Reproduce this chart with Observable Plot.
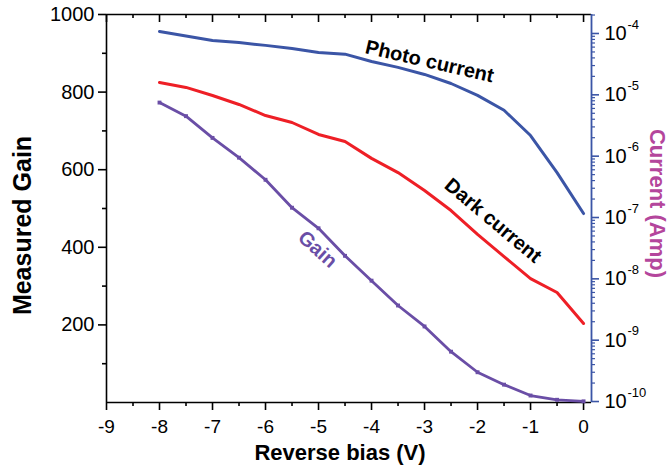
<!DOCTYPE html>
<html><head><meta charset="utf-8">
<script src="https://cdn.jsdelivr.net/npm/d3@7"></script>
<script src="https://cdn.jsdelivr.net/npm/@observablehq/plot@0.6"></script>
<style>
html,body{margin:0;padding:0;background:#fff;}
#chart svg{display:block;font-family:"Liberation Sans",Arial,sans-serif;}
</style></head><body><div id="chart"></div>
<script>
// ---- data ----
const bias = [-8,-7.5,-7,-6.5,-6,-5.5,-5,-4.5,-4,-3.5,-3,-2.5,-2,-1.5,-1,-0.5,0];
const gain = [773,738,682,631,574,502,449,378,314,250,196,131,78,46,18,7,3];
const photoBias = [-8,-7,-6.5,-6,-5.5,-5,-4.5,-4,-3.5,-3,-2.5,-2,-1.5,-1,-0.5,0];
const photoCurrent = [1.08e-4,7.7e-5,7.1e-5,6.4e-5,5.7e-5,4.9e-5,4.6e-5,3.5e-5,2.8e-5,2.15e-5,1.53e-5,9.8e-6,5.6e-6,2.17e-6,5.4e-7,1.16e-7];
const darkCurrent = [1.59e-5,1.32e-5,9.76e-6,6.96e-6,4.6e-6,3.54e-6,2.26e-6,1.73e-6,9.2e-7,5.4e-7,2.75e-7,1.3e-7,5.3e-8,2.31e-8,1.01e-8,5.99e-9,1.87e-9];

const biasTicks = [-9,-8,-7,-6,-5,-4,-3,-2,-1,0];
const biasMinorTicks = [-8.5,-7.5,-6.5,-5.5,-4.5,-3.5,-2.5,-1.5,-0.5];
const gainTicks = [200,400,600,800,1000];
const gainMinorTicks = [100,300,500,700,900];
const currentExponents = [-10,-9,-8,-7,-6,-5,-4];
const currentMantissas = [2,3,4,5,6,7,8,9];

// ---- scale extents ----
const X_MIN = -9, X_MAX = 0.15, Y_MIN = 0, Y_MAX = 1000;

// ---- colours ----
const BLUE = "#3b55a6", RED = "#ee1f26", PURPLE = "#6a4ea6", MAGENTA = "#b4469c";

// secondary (right) log axis mapped onto the gain axis units
const current = d3.scaleLog().domain([9.64e-11, 2.04e-4]).range([Y_MIN, Y_MAX]);

const gainRows = bias.map((b, i) => ({bias: b, gain: gain[i]}));
const photoRows = photoBias.map((b, i) => ({bias: b, y: current(photoCurrent[i])}));
const darkRows = bias.map((b, i) => ({bias: b, y: current(darkCurrent[i])}));

const majorCurrentTicks = currentExponents.map(e => current(Math.pow(10, e)));
const minorCurrentTicks = [];
for (const e of currentExponents) for (const m of currentMantissas) {
  const v = m * Math.pow(10, e);
  if (v < current.domain()[1]) minorCurrentTicks.push(current(v));
}

const labels = [
  {text: "Photo current", bias: -3, y: photoRows[9].y, rotate: 13, dx: 5, dy: -13, color: "#000"},
  {text: "Dark current", bias: -1.5, y: darkRows[13].y, rotate: 40, dx: -11, dy: -36, color: "#000"},
  {text: "Gain", bias: -5, y: gainRows[6].gain, rotate: 42, dx: -1, dy: 21, color: PURPLE}
];

const font = "Liberation Sans, Arial, sans-serif";
const SW = 1.6;

const chart = Plot.plot({
  width: 670,
  height: 474,
  marginLeft: 106,
  marginRight: 79,
  marginTop: 14,
  marginBottom: 72,
  style: {fontFamily: font, background: "#fff", color: "#000"},
  x: {domain: [X_MIN, X_MAX], axis: null},
  y: {domain: [Y_MIN, Y_MAX], axis: null},
  marks: [
    // bottom axis ticks (outward) and labels
    Plot.ruleX(biasTicks, {x: d => d, y1: Y_MIN, y2: Y_MIN, insetBottom: -8, stroke: "#000", strokeWidth: SW}),
    Plot.ruleX(biasMinorTicks, {x: d => d, y1: Y_MIN, y2: Y_MIN, insetBottom: -4, stroke: "#000", strokeWidth: SW}),
    Plot.text(biasTicks, {x: d => d, frameAnchor: "bottom", text: d => String(d), textAnchor: "middle", lineAnchor: "top", dy: 17, fontSize: 19, fill: "#000"}),
    // top inward ticks
    Plot.ruleX(biasTicks, {x: d => d, y1: Y_MAX, y2: Y_MAX, insetBottom: -8, stroke: "#000", strokeWidth: SW}),
    Plot.ruleX(biasMinorTicks, {x: d => d, y1: Y_MAX, y2: Y_MAX, insetBottom: -4, stroke: "#000", strokeWidth: SW}),
    // left axis ticks (outward) and labels
    Plot.ruleY(gainTicks, {y: d => d, x1: X_MIN, x2: X_MIN, insetLeft: -8, stroke: "#000", strokeWidth: SW}),
    Plot.ruleY(gainMinorTicks, {y: d => d, x1: X_MIN, x2: X_MIN, insetLeft: -4, stroke: "#000", strokeWidth: SW}),
    Plot.text(gainTicks, {y: d => d, frameAnchor: "left", text: d => String(d), textAnchor: "end", lineAnchor: "middle", dx: -12, fontSize: 20, fill: "#000"}),
    // right log axis (current)
    Plot.ruleY(majorCurrentTicks, {y: d => d, x1: X_MAX, x2: X_MAX, insetRight: -8, stroke: BLUE, strokeWidth: SW}),
    Plot.ruleY(minorCurrentTicks, {y: d => d, x1: X_MAX, x2: X_MAX, insetRight: -4, stroke: BLUE, strokeWidth: 1.2}),
    Plot.text(currentExponents, {frameAnchor: "right", y: e => current(Math.pow(10, e)), text: () => "10", textAnchor: "start", lineAnchor: "middle", dx: 13, fontSize: 20, fill: "#000"}),
    Plot.text(currentExponents, {frameAnchor: "right", y: e => current(Math.pow(10, e)), text: e => String(e), textAnchor: "start", lineAnchor: "middle", dx: 36, dy: -9, fontSize: 13, fill: "#000"}),
    // frame lines
    Plot.ruleY([Y_MAX], {stroke: "#000", strokeWidth: SW}),
    Plot.ruleY([Y_MIN], {stroke: "#000", strokeWidth: SW}),
    Plot.ruleX([X_MIN], {stroke: "#000", strokeWidth: SW}),
    Plot.ruleX([X_MAX], {stroke: BLUE, strokeWidth: 1.8}),
    // data
    Plot.line(photoRows, {x: "bias", y: "y", stroke: BLUE, strokeWidth: 3}),
    Plot.line(darkRows, {x: "bias", y: "y", stroke: RED, strokeWidth: 3}),
    Plot.line(gainRows, {x: "bias", y: "gain", stroke: PURPLE, strokeWidth: 2.8}),
    Plot.dot(gainRows, {x: "bias", y: "gain", symbol: "square", r: 2.2, fill: PURPLE}),
    // in-plot labels
    ...labels.map(l => Plot.text([l], {x: "bias", y: "y", text: "text", rotate: l.rotate, dx: l.dx, dy: l.dy, fill: l.color, fontSize: 20, fontWeight: "bold", textAnchor: "middle", lineAnchor: "middle"})),
    // axis titles
    Plot.text(["Reverse bias (V)"], {frameAnchor: "bottom", text: d => d, textAnchor: "middle", dx: -9, dy: 50, fontSize: 22, fontWeight: "bold", lineAnchor: "middle", fill: "#000"}),
    Plot.text(["Measured Gain"], {frameAnchor: "left", text: d => d, rotate: -90, textAnchor: "middle", dx: -84, dy: 17, fontSize: 25, fontWeight: "bold", lineAnchor: "middle", fill: "#000"}),
    Plot.text(["Current (Amp)"], {frameAnchor: "right", text: d => d, rotate: 90, textAnchor: "middle", dx: 66, dy: -5, fontSize: 22, fontWeight: "bold", lineAnchor: "middle", fill: MAGENTA})
  ]
});
document.getElementById("chart").appendChild(chart);
</script></body></html>
